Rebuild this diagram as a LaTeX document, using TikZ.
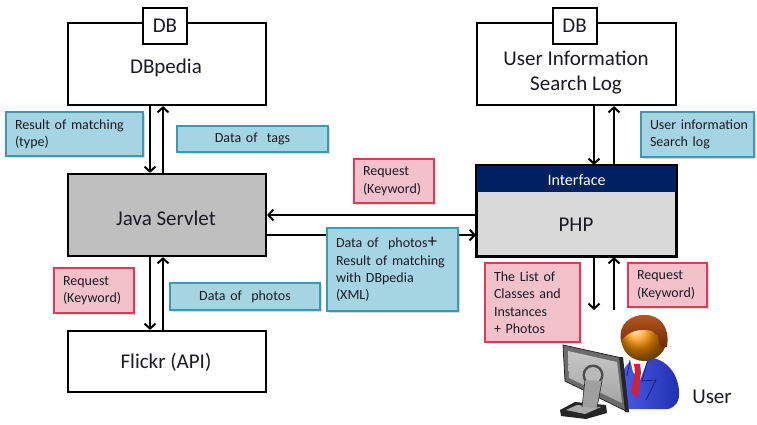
\documentclass[tikz,border=0pt]{standalone}
\usepackage{fontspec}
\setmainfont{Carlito}
\usetikzlibrary{arrows.meta,shadows}

\definecolor{lblue}{HTML}{A5D5E2}
\definecolor{lblueedge}{HTML}{3A9AB3}
\definecolor{lpink}{HTML}{F2C1CA}
\definecolor{lpinkedge}{HTML}{DC3A58}
\definecolor{servlet}{HTML}{BFBFBF}
\definecolor{phpgray}{HTML}{D9D9D9}
\definecolor{navy}{HTML}{002060}
\definecolor{ink}{HTML}{1A1A26}
\definecolor{suitlight}{HTML}{4A5BE6}
\definecolor{suitdark}{HTML}{2030B0}
\definecolor{hairlight}{HTML}{B5561E}
\definecolor{hairdark}{HTML}{6E2A08}
\definecolor{tiered}{HTML}{D0203A}

\begin{document}
\begin{tikzpicture}[x=1pt,y=-1pt,
  bigtext/.style={font=\fontsize{21}{25}\selectfont, text=ink, align=center},
  sysbox/.style={draw=black, line width=2.2pt, inner sep=0pt},
  dbtab/.style={draw=black, line width=2pt, fill=white, minimum width=44pt,
    minimum height=36pt, inner sep=0pt, bigtext},
  note/.style={line width=2.2pt, inner xsep=9pt, inner ysep=0pt, align=left,
    font=\fontsize{14}{17.4}\selectfont, text=ink,
    drop shadow={shadow xshift=2pt, shadow yshift=-2pt, opacity=0.3, fill=gray}},
  bluenote/.style={note, draw=lblueedge, fill=lblue},
  pinknote/.style={note, draw=lpinkedge, fill=lpink},
  arr/.style={line width=2pt, -{Straight Barb[length=5pt,width=11pt]}},
]
\useasboundingbox (0,0) rectangle (757,424);

% ---------- system boxes ----------
\node[sysbox, fill=white, minimum width=198pt, minimum height=82pt] (dbp) at (167,64) {};
\node[dbtab] (dbptab) at (165,26) {DB};
\node[bigtext] (dbptext) at (166,68) {DBpedia};

\node[sysbox, fill=servlet, minimum width=198pt, minimum height=82pt] (java) at (167,215) {};
\node[bigtext] (javatext) at (166,218) {Java Servlet};

\node[sysbox, fill=white, minimum width=198pt, minimum height=61pt] (flickr) at (167,361.5) {};
\node[bigtext] (flickrtext) at (166,362) {Flickr (API)};

\node[sysbox, fill=white, minimum width=199pt, minimum height=82pt] (ulog) at (576.5,64) {};
\node[dbtab] (ulogtab) at (574.5,26) {DB};
\node[bigtext] (ulogtext) at (576,72.5) {User Information\\Search Log};

\node[sysbox, fill=phpgray, minimum width=199pt, minimum height=90pt] (php) at (576.5,211) {};
\fill[navy] (php.north west) rectangle ([yshift=-27pt]php.north east);
\draw[line width=2.2pt] (php.north west) rectangle (php.south east);
\node[font=\fontsize{16}{19}\selectfont, text=white] (iface) at (576.5,180) {Interface};
\node[bigtext] (phptext) at (576,225) {PHP};

% ---------- connectors ----------
\draw[arr] ([xshift=-17pt]dbp.south) -- ([xshift=-17pt]java.north);
\draw[arr] ([xshift=-4pt]java.north) -- ([xshift=-4pt]dbp.south);
\draw[arr] ([xshift=-17pt]java.south) -- ([xshift=-17pt]flickr.north);
\draw[arr] ([xshift=-4pt]flickr.north) -- ([xshift=-4pt]java.south);

\draw[arr] ([xshift=17.5pt]ulog.south) -- ([xshift=17.5pt]php.north);
\draw[arr] ([xshift=37.5pt]php.north) -- ([xshift=37.5pt]ulog.south);

\draw[arr] (php.west |- java.east) -- (java.east);
\coordinate (jout) at ([yshift=-20pt]java.east);
\draw[arr] (jout) -- (jout -| php.west);

\coordinate (udown) at (594,310);
\coordinate (uup) at (614,310);
\draw[arr] ([xshift=17.5pt]php.south) -- (udown);
\draw[arr] (uup) -- ([xshift=37.5pt]php.south);

% ---------- labels ----------
\node[bluenote, minimum width=137pt, minimum height=44pt, text width=119pt]
  (nmatch) at (74.5,134) {Result of matching\\(type)};
\node[bluenote, minimum width=151pt, minimum height=26pt, text width=133pt, align=center]
  (ntags) at (252.5,139) {Data of\ \ tags};
\node[pinknote, minimum width=80pt, minimum height=45pt, text width=62pt]
  (nreqL) at (94,290.5) {Request\\(Keyword)};
\node[bluenote, minimum width=150pt, minimum height=27pt, text width=132pt, align=center]
  (nphotos) at (245,296.5) {Data of\ \ photos};
\node[bluenote, minimum width=131pt, minimum height=83pt, text width=113pt]
  (nxml) at (392.5,269.5) {Data of\ \ photos{\fontsize{19}{17}\selectfont+}\\Result of matching\\with DBpedia\\(XML)};
\node[pinknote, minimum width=80pt, minimum height=44pt, text width=62pt]
  (nreqM) at (394,181) {Request\\(Keyword)};
\node[bluenote, minimum width=113pt, minimum height=45pt, text width=95pt]
  (nuinfo) at (697.5,134.5) {\mbox{User information}\\Search log};
\node[pinknote, minimum width=95pt, minimum height=79pt, text width=77pt]
  (nlist) at (532.5,302.5) {The List of\\Classes and\\Instances\\+ Photos};
\node[pinknote, minimum width=79pt, minimum height=44pt, text width=61pt]
  (nreqR) at (667.5,285) {Request\\(Keyword)};

% ---------- user at the computer ----------
% suit
\shade[left color=suitlight, right color=suitdark]
  (621,409) -- (621,378) .. controls (623,365) and (633,357) .. (645,357)
  .. controls (663,357) and (677,370) .. (679,390)
  .. controls (680,401) and (676,407) .. (668,409) -- cycle;
% shirt and tie
\fill[white] (630,359) -- (648,359) -- (640,380) -- (633,372) -- cycle;
\fill[tiered] (634,364) -- (640,364) -- (641,372) -- (638,398) -- (631,392) -- (635,372) -- cycle;
% lapels
\draw[suitdark!70!black, line width=0.8pt] (648,359) -- (642,381) -- (656,380) -- (646,400);
\draw[suitdark!70!black, line width=0.8pt] (630,360) -- (627,376);
% head
\shade[ball color=orange!85!yellow] (644,338) circle (23);
% hair
\shade[top color=hairlight, bottom color=hairdark]
  (621,341) .. controls (618,323) and (631,315) .. (645,315)
  .. controls (661,315) and (670,328) .. (667,347) -- (660,347) -- (658,336)
  -- (652,331) .. controls (640,328) and (628,331) .. (621,341) -- cycle;
% monitor back shell
\fill[gray!85!black] (563,345) -- (622,358) -- (628,412) -- (565,381) -- cycle;
\shade[top color=gray!45, bottom color=gray!70] (568,351) -- (617,362) -- (622,403) -- (569,378) -- cycle;
\draw[gray!30!black, line width=0.8pt] (563,345) -- (622,358) -- (628,412) -- (565,381) -- cycle;
\fill[black!85] (619,357) -- (623,357) -- (629,412) -- (625,412) -- cycle;
% stand
\fill[gray!30!black] (560,410) -- (575,402) -- (606,405) -- (607,413) -- (586,419) -- (561,416) -- cycle;
\fill[gray!65] (566,410) -- (577,405) -- (601,407) -- (585,414) -- cycle;
\fill[gray!60!black] (593,375) circle (10.5);
\fill[gray!55] (593,375) circle (8);
\fill[gray!75] (585,380) -- (602,381) -- (597,408) -- (582,407) -- cycle;
\draw[gray!30!black, line width=0.6pt] (585,380) -- (582,407) (602,381) -- (597,408);

\node[bigtext] (usertext) at (712,397) {User};
\end{tikzpicture}
\end{document}
